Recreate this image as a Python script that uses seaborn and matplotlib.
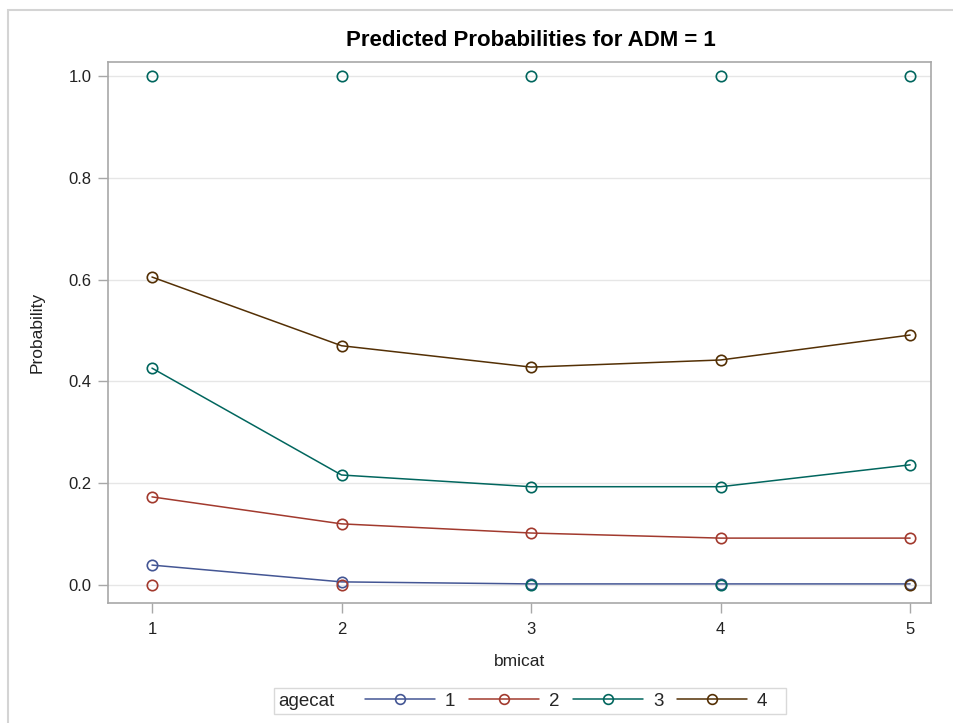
import matplotlib
matplotlib.use("Agg")
import matplotlib.pyplot as plt
from matplotlib.lines import Line2D
from matplotlib.patches import Rectangle
from matplotlib.offsetbox import DrawingArea
import numpy as np
import pandas as pd
import seaborn as sns

# Predicted probabilities by BMI category, one curve per age category
bmicat = [1, 2, 3, 4, 5]
agecat_levels = ["1", "2", "3", "4"]
pred_age1 = [0.039, 0.006, 0.002, 0.002, 0.002]
pred_age2 = [0.173, 0.120, 0.102, 0.092, 0.092]
pred_age3 = [0.426, 0.216, 0.193, 0.193, 0.236]
pred_age4 = [0.605, 0.470, 0.428, 0.442, 0.491]

# Observed cell proportions (markers only)
obs_x = [1, 2, 3, 4, 5, 1, 2, 3, 4, 5]
obs_y = [1.0, 1.0, 1.0, 1.0, 1.0, 0.0, 0.0, 0.0, 0.0, 0.0]
obs_age = ["3", "3", "3", "3", "3", "2", "2", "3", "3", "4"]

colors = ["#445694", "#A23A2E", "#01665E", "#543005"]
palette = dict(zip(agecat_levels, colors))

pred = pd.DataFrame({
    "bmicat": bmicat * 4,
    "Probability": pred_age1 + pred_age2 + pred_age3 + pred_age4,
    "agecat": sum([[a] * len(bmicat) for a in agecat_levels], []),
})
obs = pd.DataFrame({"bmicat": obs_x, "Probability": obs_y, "agecat": obs_age})

sns.set_theme(style="white")
plt.rcParams["font.family"] = ["Liberation Sans", "DejaVu Sans"]

fig = plt.figure(figsize=(9.54, 7.23), dpi=100)
ax = fig.add_axes([108 / 954, 1 - 603 / 723, (931 - 108) / 954, (603 - 62) / 723])

grid_c = "#e6e6e6"
ax.set_axisbelow(True)
ax.yaxis.grid(True, color=grid_c, linewidth=1.0)

sns.lineplot(data=pred, x="bmicat", y="Probability", hue="agecat",
             palette=palette, ax=ax, linewidth=1.1, legend=False,
             marker="o", markersize=7.5, markerfacecolor="none",
             markeredgewidth=1.2)
# lineplot draws markers with the line color; set edge colors explicitly
for line, c in zip(ax.lines, colors):
    line.set_markeredgecolor(c)

for a in agecat_levels:
    sub = obs[obs["agecat"] == a]
    if len(sub):
        ax.plot(sub["bmicat"], sub["Probability"], linestyle="none",
                marker="o", markersize=7.5, markerfacecolor="none",
                markeredgecolor=palette[a], markeredgewidth=1.2)

ax.set_xlim(0.768, 5.11)
ax.set_ylim(-0.0355, 1.0275)
ax.set_xticks(bmicat)
ax.set_xticklabels([str(v) for v in bmicat])
ax.set_yticks([0.0, 0.2, 0.4, 0.6, 0.8, 1.0])
ax.set_yticklabels(["0.0", "0.2", "0.4", "0.6", "0.8", "1.0"])

frame_c = "#a8a8a8"
for s in ax.spines.values():
    s.set_color(frame_c)
    s.set_linewidth(1.2)
ax.tick_params(axis="both", direction="out", length=7, width=1.0,
               color=frame_c, labelsize=12, labelcolor="#222222", pad=5)
ax.tick_params(axis="x", bottom=True, pad=7)
ax.tick_params(axis="y", left=True)

ax.set_xlabel("bmicat", fontsize=12.5, color="#222222", labelpad=12)
ax.set_ylabel("Probability", fontsize=12.5, color="#222222", labelpad=17)

fig.text(531 / 954, 1 - 40 / 723, "Predicted Probabilities for ADM = 1",
         ha="center", va="center", fontsize=16, fontweight="bold",
         color="#000000")

# Outer graph border (top and left edges visible)
fig.add_artist(Rectangle((8 / 954, -0.1), 1.2, 1 - 10 / 723 + 0.1,
                         transform=fig.transFigure, fill=False,
                         edgecolor="#d4d4d4", linewidth=1.5))

# Legend with title placed inline to the left of the entries
handles = [Line2D([], [], color=c, linewidth=1.1, marker="o", markersize=7,
                  markerfacecolor="none", markeredgecolor=c,
                  markeredgewidth=1.2) for c in colors]
leg = fig.legend(handles, agecat_levels, title="agecat", ncol=4,
                 loc="center", bbox_to_anchor=(530 / 954, 1 - 701 / 723),
                 frameon=True, fontsize=13.5, title_fontsize=13.5,
                 handlelength=3.7, handletextpad=0.55, columnspacing=0.8,
                 borderpad=0.25, fancybox=False)
leg.get_frame().set_edgecolor("#d0d0d0")
leg.get_frame().set_linewidth(1.0)
box = leg.get_children()[0]
title_box = box.get_children()[0]
hpack = box.get_children()[1]
box._children = [hpack]
hpack._children = ([title_box, DrawingArea(2, 1)] + hpack.get_children()
                   + [DrawingArea(0, 1)])
hpack.sep = 10

fig.savefig("out.png", dpi=100, facecolor="white")
